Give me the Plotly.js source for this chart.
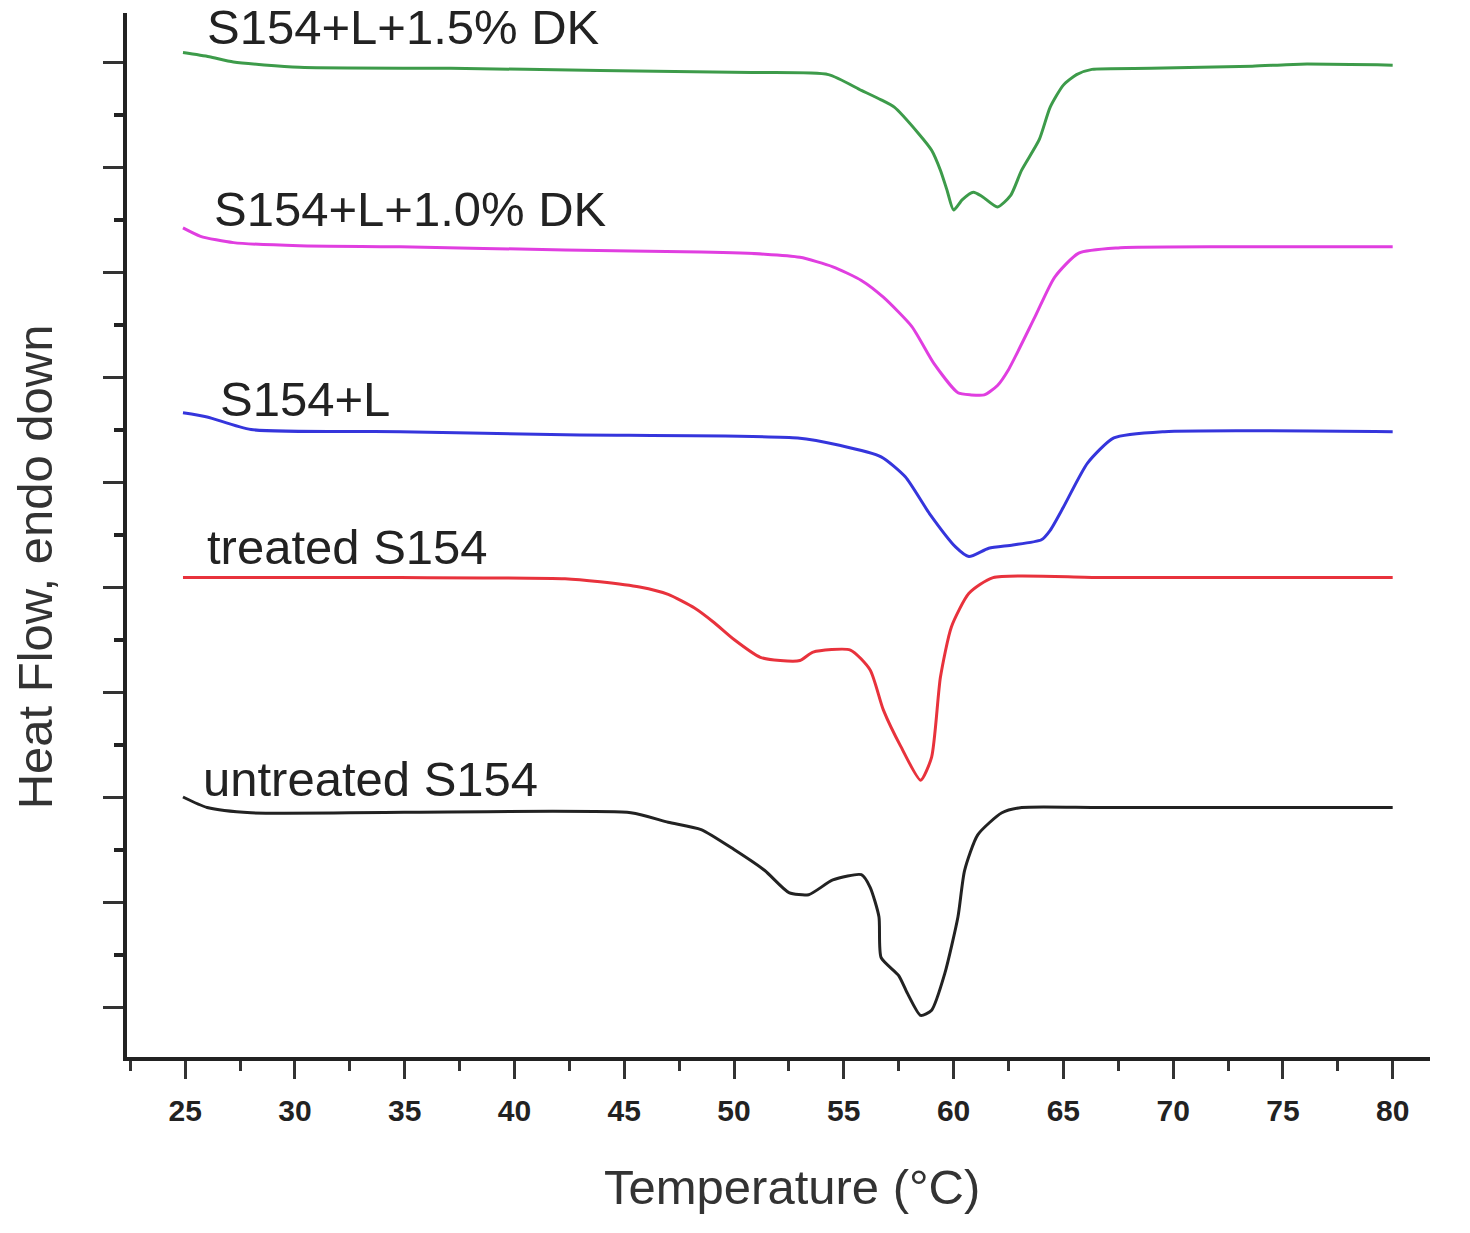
<!DOCTYPE html>
<html>
<head>
<meta charset="utf-8">
<title>DSC curves</title>
<script src="https://cdn.plot.ly/plotly-3.0.1.min.js"></script>
<style>
    html, body { margin: 0; padding: 0; background: #fff; }
    #plotDiv { width: 1470px; height: 1233px; }
</style>
</head>
<body>
<div id="plotDiv"></div>
<script>
// Temperature (°C) and heat flow (arb. units, major tick = 1)
const temp_15dk = [24.9, 26.1, 27.2, 30.2, 37.1, 43.9, 50.8, 54.3, 55.8, 56.7, 57.3, 58.4, 59.0, 59.4, 59.7, 60.0, 60.4, 60.9, 61.3, 62.0, 62.6, 63.1, 63.9, 64.4, 65.0, 65.6, 66.3, 69.0, 73.6, 75.8, 80.0];
const flow_15dk = [10.09, 10.05, 10.00, 9.95, 9.94, 9.92, 9.90, 9.88, 9.73, 9.64, 9.57, 9.32, 9.16, 8.97, 8.78, 8.59, 8.69, 8.76, 8.72, 8.62, 8.73, 8.97, 9.26, 9.57, 9.78, 9.88, 9.93, 9.94, 9.96, 9.98, 9.97];

const temp_10dk = [24.9, 25.7, 27.2, 30.2, 34.8, 42.3, 48.5, 51.4, 53.0, 54.5, 55.8, 56.8, 58.1, 59.1, 60.2, 60.8, 61.4, 62.0, 62.5, 63.7, 64.6, 65.7, 67.5, 72.6, 80.0];
const flow_10dk = [8.42, 8.34, 8.28, 8.25, 8.24, 8.21, 8.19, 8.17, 8.14, 8.05, 7.92, 7.76, 7.48, 7.13, 6.85, 6.83, 6.83, 6.92, 7.07, 7.57, 7.95, 8.18, 8.23, 8.24, 8.24];

const temp_l = [24.9, 26.0, 28.0, 34.8, 42.3, 52.9, 54.8, 56.7, 57.8, 58.9, 60.1, 60.7, 61.6, 62.7, 64.0, 64.4, 65.0, 66.1, 67.3, 69.6, 80.0];
const flow_l = [6.66, 6.62, 6.50, 6.48, 6.45, 6.42, 6.35, 6.24, 6.05, 5.70, 5.38, 5.29, 5.37, 5.40, 5.45, 5.54, 5.76, 6.18, 6.42, 6.48, 6.48];

const temp_treated = [24.9, 34.8, 42.3, 43.9, 45.7, 47.0, 48.2, 49.1, 50.0, 51.2, 52.1, 53.0, 53.6, 55.3, 56.2, 56.8, 57.6, 58.5, 59.0, 59.4, 59.9, 60.7, 61.8, 66.7, 80.0];
const flow_treated = [5.09, 5.09, 5.08, 5.05, 5.00, 4.93, 4.80, 4.66, 4.50, 4.33, 4.30, 4.30, 4.38, 4.40, 4.21, 3.83, 3.48, 3.16, 3.38, 4.14, 4.62, 4.94, 5.09, 5.09, 5.09];

const temp_untreated = [24.9, 26.0, 28.0, 45.3, 47.0, 48.5, 50.0, 51.4, 52.5, 53.4, 54.5, 55.8, 56.2, 56.6, 56.7, 57.5, 57.9, 58.5, 59.0, 59.6, 60.2, 60.5, 61.1, 62.2, 63.1, 66.7, 80.0];
const flow_untreated = [3.00, 2.90, 2.85, 2.85, 2.76, 2.69, 2.50, 2.30, 2.09, 2.07, 2.21, 2.26, 2.14, 1.86, 1.47, 1.30, 1.13, 0.92, 0.97, 1.32, 1.86, 2.30, 2.64, 2.85, 2.90, 2.90, 2.90];

const seriesLabels = ['S154+L+1.5% DK', 'S154+L+1.0% DK', 'S154+L', 'treated S154', 'untreated S154'];
const xTicks = [25, 30, 35, 40, 45, 50, 55, 60, 65, 70, 75, 80];
const xTitle = 'Temperature (°C)';
const yTitle = 'Heat Flow, endo down';

const FONT = 'Liberation Sans, Arial, sans-serif';

function makeTrace(x, y, color) {
    return {
        x: x,
        y: y,
        mode: 'lines',
        line: {color: color, width: 3, shape: 'spline', smoothing: 0.6},
        hoverinfo: 'skip',
        showlegend: false
    };
}

const traces = [
    makeTrace(temp_15dk, flow_15dk, '#3d9b4a'),
    makeTrace(temp_10dk, flow_10dk, '#e03ee0'),
    makeTrace(temp_l, flow_l, '#3535dc'),
    makeTrace(temp_treated, flow_treated, '#e8323c'),
    makeTrace(temp_untreated, flow_untreated, '#222222')
];

// label anchors (left edge, vertical centre) in data units
const labelPos = [[25.9, 10.33], [26.2, 8.6], [26.5, 6.79], [25.9, 5.38], [25.7, 3.17]];
const annotations = seriesLabels.map((txt, i) => ({
    x: labelPos[i][0],
    y: labelPos[i][1],
    xref: 'x',
    yref: 'y',
    text: txt,
    showarrow: false,
    xanchor: 'left',
    yanchor: 'middle',
    font: {family: FONT, size: 49, color: '#222'}
}));

// axis titles as annotations so they sit where the original has them
annotations.push({
    x: 0.51, y: -0.1245, xref: 'paper', yref: 'paper',
    text: xTitle, showarrow: false, xanchor: 'center', yanchor: 'middle',
    font: {family: FONT, size: 49, color: '#333'}
});
annotations.push({
    x: -0.0706, y: 0.469, xref: 'paper', yref: 'paper',
    text: yTitle, showarrow: false, textangle: -90, xanchor: 'center', yanchor: 'middle',
    font: {family: FONT, size: 49, color: '#333'}
});

const layout = {
    width: 1470,
    height: 1233,
    margin: {l: 127, r: 40, t: 13, b: 176},
    paper_bgcolor: '#fff',
    plot_bgcolor: '#fff',
    xaxis: {
        range: [22.35, 81.7],
        tickmode: 'array',
        tickvals: xTicks,
        ticktext: xTicks.map(String),
        ticks: 'outside',
        ticklen: 18,
        tickwidth: 3,
        tickcolor: '#333',
        ticklabelstandoff: 6,
        minor: {dtick: 2.5, tick0: 25, ticks: 'outside', ticklen: 10, tickwidth: 3, tickcolor: '#333', showgrid: false},
        showline: true,
        linecolor: '#222',
        linewidth: 4,
        showgrid: false,
        zeroline: false,
        tickfont: {family: FONT, size: 30, color: '#222', weight: 'bold'}
    },
    yaxis: {
        range: [0.524, 10.467],
        tick0: 1,
        dtick: 1,
        ticks: 'outside',
        ticklen: 20,
        tickwidth: 3,
        tickcolor: '#333',
        minor: {dtick: 0.5, tick0: 1, ticks: 'outside', ticklen: 9, tickwidth: 4, tickcolor: '#222', showgrid: false},
        showticklabels: false,
        showline: true,
        linecolor: '#222',
        linewidth: 4,
        showgrid: false,
        zeroline: false
    },
    annotations: annotations
};

Plotly.newPlot('plotDiv', traces, layout, {staticPlot: true});
</script>
</body>
</html>
